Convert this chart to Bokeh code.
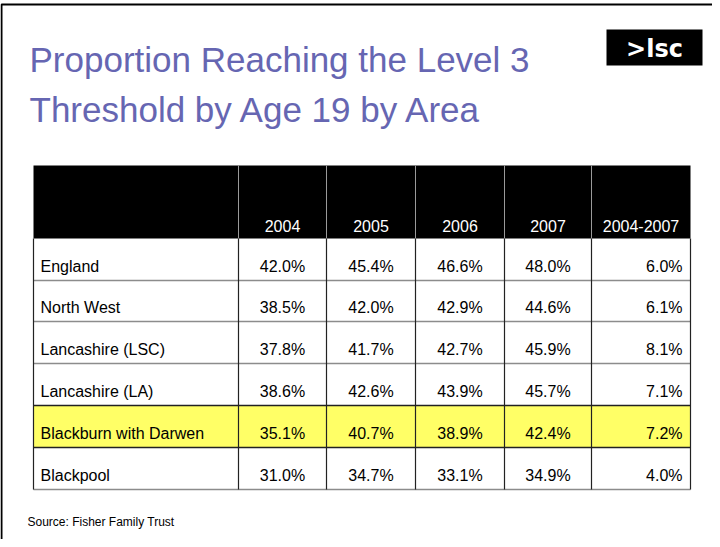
from bokeh.plotting import figure
from bokeh.models import Range1d
from bokeh.embed import file_html
from bokeh.resources import INLINE
from bokeh.core.properties import value

# ---- data ----
title_lines = ["Proportion Reaching the Level 3", "Threshold by Age 19 by Area"]
columns = ["2004", "2005", "2006", "2007", "2004-2007"]
areas = ["England", "North West", "Lancashire (LSC)", "Lancashire (LA)",
         "Blackburn with Darwen", "Blackpool"]
y2004 = [42.0, 38.5, 37.8, 38.6, 35.1, 31.0]
y2005 = [45.4, 42.0, 41.7, 42.6, 40.7, 34.7]
y2006 = [46.6, 42.9, 42.7, 43.9, 38.9, 33.1]
y2007 = [48.0, 44.6, 45.9, 45.7, 42.4, 34.9]
change = [6.0, 6.1, 8.1, 7.1, 7.2, 4.0]
highlight = "Blackburn with Darwen"
source_note = "Source: Fisher Family Trust"
logo_text = ">lsc"

# ---- layout (page pixel coordinates) ----
W, H = 712, 539
col_edges = [41, 246, 334, 423, 512, 599, 698]
header_top, header_bot = 173, 246
row_edges = [246, 288, 329, 371, 413, 455, 497]
FONT = "Liberation Sans"

p = figure(width=W, height=H, output_backend="svg", toolbar_location=None,
           x_range=Range1d(8, 8 + W), y_range=Range1d(8 + H, 8), min_border=0)
p.axis.visible = False
p.grid.visible = False
p.outline_line_color = None
p.background_fill_color = "white"
p.border_fill_color = "white"

# slide frame
p.line([9, 9, 740], [560, 12, 12], line_color="black", line_width=2)

# title
title_color = "#6666b2"
for i, t in enumerate(title_lines):
    p.text([37], [67 + 50 * i], text=[t], text_font=value(FONT), text_font_size="35px",
           text_color=title_color, text_baseline="alphabetic", text_align="left")

# logo
p.quad(left=[614], right=[710], top=[37], bottom=[73], fill_color="black", line_color=None)
p.text([662], [56], text=[logo_text], text_font=value("DejaVu Sans"), text_font_style="bold",
       text_font_size="24px", text_color="white", text_align="center", text_baseline="middle")

# header
p.quad(left=[col_edges[0]], right=[col_edges[-1]], top=[header_top], bottom=[header_bot],
       fill_color="black", line_color=None)
for x in col_edges[1:-1]:
    p.segment([x], [header_top], [x], [header_bot], line_color="#9a9a9a", line_width=1)
hx = [(col_edges[i + 1] + col_edges[i + 2]) / 2 for i in range(len(columns))]
p.text(hx, [header_bot - 7] * len(columns), text=columns, text_font=value(FONT),
       text_font_size="16px", text_color="white", text_align="center",
       text_baseline="bottom")

# highlight fill
for i, a in enumerate(areas):
    if a == highlight:
        p.quad(left=[col_edges[0]], right=[col_edges[-1]], top=[row_edges[i]],
               bottom=[row_edges[i + 1]], fill_color="#ffff66", line_color=None)

# grid lines: horizontals
for i, y in enumerate(row_edges[1:]):
    dark = areas[i] == highlight or (i + 1 < len(areas) and areas[i + 1] == highlight)
    p.segment([col_edges[0]], [y], [col_edges[-1]], [y],
              line_color="#222222" if dark else "#8c8c8c", line_width=1.5)
# verticals in body
for x in col_edges:
    p.segment([x], [header_bot], [x], [row_edges[-1]], line_color="#222222", line_width=1.2)

# body text
series = [y2004, y2005, y2006, y2007]
for i, a in enumerate(areas):
    yb = row_edges[i + 1] - 6
    p.text([col_edges[0] + 7], [yb], text=[a], text_font=value(FONT), text_font_size="16px",
           text_color="black", text_align="left", text_baseline="bottom")
    for k, s in enumerate(series):
        p.text([hx[k]], [yb], text=[f"{s[i]:.1f}%"], text_font=value(FONT),
               text_font_size="16px", text_color="black", text_align="center",
               text_baseline="bottom")
    p.text([col_edges[-1] - 8], [yb], text=[f"{change[i]:.1f}%"], text_font=value(FONT),
           text_font_size="16px", text_color="black", text_align="right",
           text_baseline="bottom")

# source note
p.text([35], [529], text=[source_note], text_font=value(FONT), text_font_size="12px",
       text_color="black", text_align="left", text_baseline="middle")

open("out.html", "w").write(file_html(p, INLINE))
